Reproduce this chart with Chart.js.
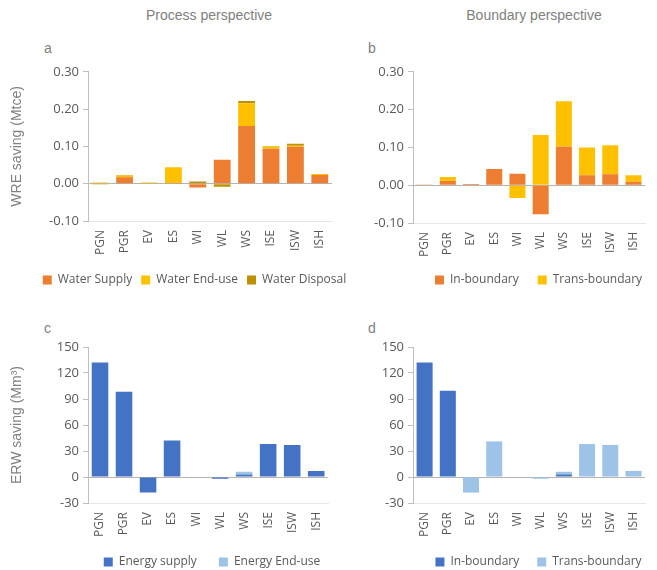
<!DOCTYPE html>
<html>
<head>
<meta charset="utf-8">
<script src="https://cdn.jsdelivr.net/npm/chart.js@4.4.0/dist/chart.umd.min.js"></script>
<style>
  html, body { margin: 0; padding: 0; background: #fff; overflow: hidden; }
  #page { position: relative; width: 657px; height: 570px; overflow: hidden; font-family: "Liberation Sans", Arial, sans-serif; }
  .holder { position: absolute; }
  .txt { position: absolute; color: #808080; white-space: nowrap; font-size: 14px; line-height: 16px; }
  .head { text-align: center; width: 220px; }
</style>
</head>
<body>
<div id="page">
  <div class="txt head" style="left:99px; top:7px;">Process perspective</div>
  <div class="txt head" style="left:424px; top:7px;">Boundary perspective</div>
  <div class="txt" style="left:44px; top:40px;">a</div>
  <div class="txt" style="left:368px; top:40px;">b</div>
  <div class="txt" style="left:44px; top:320px;">c</div>
  <div class="txt" style="left:368px; top:320px;">d</div>

  <div class="holder" style="left:0px; top:60px;"><canvas id="chartA" width="360" height="236"></canvas></div>
  <div class="holder" style="left:340px; top:60px;"><canvas id="chartB" width="317" height="246"></canvas></div>
  <div class="holder" style="left:0px; top:335px;"><canvas id="chartC" width="340" height="254"></canvas></div>
  <div class="holder" style="left:340px; top:335px;"><canvas id="chartD" width="317" height="250"></canvas></div>
</div>

<script>
// Sectors shown on every x axis
const categories = ['PGN', 'PGR', 'EV', 'ES', 'WI', 'WL', 'WS', 'ISE', 'ISW', 'ISH'];

// Water-related energy saving (Mtce), by process
const wreSupply   = [0,      0.017, 0,     0.002, -0.010, 0.064,  0.155, 0.094, 0.099, 0.023];
const wreEndUse   = [0.003,  0.005, 0.003, 0.042,  0.001, 0,      0.061, 0.006, 0.003, 0.003];
const wreDisposal = [-0.002, 0.001, 0,     0,      0.005, -0.008, 0.006, 0.001, 0.005, 0];

// Water-related energy saving (Mtce), by boundary
const wreIn    = [0.002, 0.011, 0.003, 0.043, 0.030,  -0.077, 0.102, 0.026, 0.029, 0.009];
const wreTrans = [0,     0.011, 0,     0,     -0.034, 0.133,  0.120, 0.074, 0.077, 0.017];

// Energy-related water saving (Mm³), by process
const erwSupply = [132, 98.5, -18, 42, 0,   -2, 3, 38, 37, 7];
const erwEndUse = [0,   0,    0,   0,  0.6, 0,  3, 0,  0,  0];

// Energy-related water saving (Mm³), by boundary
const erwIn    = [132, 99.5, 0,   0,  0, 0,  3, 0,  0,  0];
const erwTrans = [0,   -1,   -18, 41, 0, -2, 3, 38, 37, 7];

// Value-axis ticks
const wreTicks = [-0.10, 0.00, 0.10, 0.20, 0.30];
const erwTicks = [-30, 0, 30, 60, 90, 120, 150];

const ORANGE = '#ED7D31', GOLD = '#FFC000', OLIVE = '#BF9000';
const BLUE = '#4472C4', LIGHTBLUE = '#9DC3E6';
const TEXT = '#595959', AXIS = '#bfbfbf';

// Places the legend row so its centre sits at a chosen (x, y) within the canvas
const legendPlace = {
  id: 'legendPlace',
  afterLayout(chart, args, opts) {
    const lg = chart.legend;
    if (!lg) return;
    if (opts.x != null) {
      const dx = opts.x - (lg.left + lg.right) / 2;
      lg.left += dx;
      lg.right += dx;
    }
    if (opts.y != null) {
      const rowMid = lg.top + lg.options.labels.padding + 6;
      const dy = opts.y - rowMid;
      lg.top += dy;
      lg.bottom += dy;
    }
  }
};

function panel(id, sets, ticks, fmt, yTitle, g) {
  new Chart(document.getElementById(id), {
    type: 'bar',
    data: {
      labels: categories,
      datasets: sets.map(s => ({
        label: s.label,
        data: s.data,
        backgroundColor: s.color,
        borderWidth: 0,
        categoryPercentage: 1,
        barPercentage: 0.69
      }))
    },
    plugins: [legendPlace],
    options: {
      responsive: false,
      animation: false,
      devicePixelRatio: 1,
      layout: { padding: { top: g.padTop, right: g.padRight, left: 0, bottom: 0 } },
      plugins: {
        tooltip: { enabled: false },
        legendPlace: { x: g.legendX, y: g.legendY },
        legend: {
          position: 'bottom',
          labels: {
            boxWidth: 9, boxHeight: 9, padding: g.legendPad,
            color: TEXT,
            font: { family: 'Open Sans', size: 12 }
          }
        }
      },
      scales: {
        x: {
          stacked: true,
          grid: { display: false, drawTicks: false },
          border: { display: true, color: '#e6e6e6', width: 1 },
          ticks: {
            minRotation: 90, maxRotation: 90, padding: 9, autoSkip: false,
            color: TEXT, font: { family: 'Open Sans', size: 12 }
          },
          afterFit: s => { s.height = g.xHeight; }
        },
        y: {
          stacked: true,
          z: 1,
          min: ticks[0],
          max: ticks[ticks.length - 1],
          afterBuildTicks: s => { s.ticks = ticks.map(v => ({ value: v })); },
          afterFit: s => { s.width = g.yWidth; },
          grid: {
            drawTicks: true, tickLength: 5,
            tickColor: AXIS,
            color: c => (c.tick && Math.abs(c.tick.value) < 1e-9) ? '#b4b4b4' : 'rgba(0,0,0,0)',
            lineWidth: 1
          },
          border: { display: true, color: AXIS, width: 1 },
          ticks: {
            padding: 4, color: TEXT,
            font: { family: 'Open Sans', size: 13 },
            callback: v => fmt(v)
          },
          title: {
            display: !!yTitle,
            text: yTitle || '',
            color: '#808080',
            font: { family: 'Liberation Sans', size: 14 },
            padding: { top: 9, bottom: 0 }
          }
        }
      }
    }
  });
}

const fmtWre = v => Number(v).toFixed(2);
const fmtErw = v => String(Math.round(v));

panel('chartA', [
  { label: 'Water Supply',   data: wreSupply,   color: ORANGE },
  { label: 'Water End-use',  data: wreEndUse,   color: GOLD },
  { label: 'Water Disposal', data: wreDisposal, color: OLIVE }
], wreTicks, fmtWre, 'WRE saving (Mtce)',
  { padTop: 10, padRight: 28, yWidth: 88, xHeight: 44, legendPad: 9, legendX: 194.5, legendY: 220 });

panel('chartB', [
  { label: 'In-boundary',    data: wreIn,    color: ORANGE },
  { label: 'Trans-boundary', data: wreTrans, color: GOLD }
], wreTicks, fmtWre, null,
  { padTop: 10, padRight: 2, yWidth: 73, xHeight: 42, legendPad: 19, legendX: 198.5, legendY: 220 });

panel('chartC', [
  { label: 'Energy supply',  data: erwSupply, color: BLUE },
  { label: 'Energy End-use', data: erwEndUse, color: LIGHTBLUE }
], erwTicks, fmtErw, 'ERW saving (Mm³)',
  { padTop: 12, padRight: 8, yWidth: 88, xHeight: 42, legendPad: 22, legendX: 212, legendY: 227 });

panel('chartD', [
  { label: 'In-boundary',    data: erwIn,    color: BLUE },
  { label: 'Trans-boundary', data: erwTrans, color: LIGHTBLUE }
], erwTicks, fmtErw, null,
  { padTop: 12, padRight: 2, yWidth: 73, xHeight: 42, legendPad: 18, legendX: 198.5, legendY: 227 });
</script>
</body>
</html>
